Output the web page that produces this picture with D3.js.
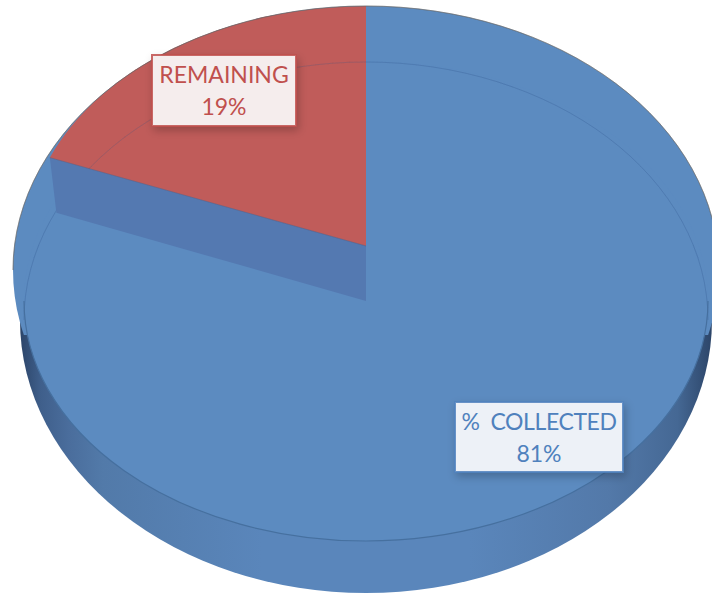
<!DOCTYPE html>
<html>
<head>
<meta charset="utf-8">
<script src="https://cdn.jsdelivr.net/npm/d3@7"></script>
<style>
html, body { margin: 0; padding: 0; background: #fff; overflow: hidden; }
svg { display: block; }
</style>
</head>
<body>
<div id="chart"></div>
<script>
//Data
var categories = ["% COLLECTED", "REMAINING"];
var values = [81, 19];
var labelTitles = ["%  COLLECTED", "REMAINING"];
var labelValues = ["81%", "19%"];

//Dimensions
var width = 712, height = 593;
var cx = 366;
var top_ = { cy: 246, rx: 340, ry: 240 };     // raised face, red slice sits here
var back = { cy: 270, rx: 353, ry: 264 };     // back outline of the disc
var face = { cy: 301, rx: 342, ry: 240 };     // blue face, front half
var rim = { cy: 320, rx: 342, ry: 258 };      // faint line, back half of the face
var foot = { cy: 301, rx: 333, ry: 240 };     // foot of the inner wall
var wall = { cy: 320, rx: 346, ry: 273 };     // lower edge of the side wall
var boxes = [
    { x: 455, y: 402, w: 168, h: 70 },
    { x: 152, y: 55, w: 144, h: 71 }
];

var svg = d3.select("#chart")
    .append("svg")
    .attr("width", width)
    .attr("height", height);

var defs = svg.append("defs");

//Side wall gradient
var grad = defs.append("linearGradient")
    .attr("id", "wallGrad")
    .attr("x1", 0).attr("x2", 1)
    .attr("y1", 0).attr("y2", 0);
[[0, "#2c4569"], [0.03, "#3f5f8b"], [0.07, "#4a6d9c"], [0.12, "#527aa9"], [0.35, "#5a86bb"],
 [0.65, "#5a86bb"], [0.85, "#5379a9"], [0.95, "#456894"], [1, "#2c4569"]]
    .forEach(function (s) {
        grad.append("stop").attr("offset", s[0]).attr("stop-color", s[1]);
    });

//Only the upper part of the back outline is visible
defs.append("clipPath").attr("id", "backClip")
    .append("rect")
    .attr("x", 0).attr("y", 0)
    .attr("width", width).attr("height", 335);

var shadow = defs.append("filter").attr("id", "boxShadow")
    .attr("x", "-20%").attr("y", "-20%")
    .attr("width", "140%").attr("height", "150%");
shadow.append("feDropShadow")
    .attr("dx", 2).attr("dy", 4)
    .attr("stdDeviation", 4)
    .attr("flood-color", "#000")
    .attr("flood-opacity", 0.22);

var color = d3.scaleOrdinal()
    .domain(categories)
    .range(["#5c8bc0", "#c05c5a"]);
var textColor = d3.scaleOrdinal()
    .domain(categories)
    .range(["#4f81bd", "#c0504d"]);
var boxFill = d3.scaleOrdinal()
    .domain(categories)
    .range(["#edf1f7", "#f5eded"]);

var pie = d3.pie().sort(null).value(function (d) { return d; });
var slices = pie(values);
var unitArc = d3.arc().innerRadius(0).outerRadius(1);
var lineArc = d3.arc().innerRadius(1).outerRadius(1);
var fullDisc = unitArc({ startAngle: 0, endAngle: 2 * Math.PI });
var backHalf = { startAngle: -Math.PI / 2, endAngle: Math.PI / 2 };
var frontHalf = { startAngle: Math.PI / 2, endAngle: 3 * Math.PI / 2 };

function place(e) {
    return "translate(" + cx + "," + e.cy + ")scale(" + e.rx + "," + e.ry + ")";
}
function onEdge(e, angle) {
    return [cx + e.rx * Math.sin(angle), e.cy - e.ry * Math.cos(angle)];
}

//The red slice shape is also used to clip the faint line
defs.append("clipPath").attr("id", "redClip")
    .append("path")
    .attr("d", unitArc(slices[1]))
    .attr("transform", place(top_));

function drawRim(parent, opacity) {
    parent.append("path")
        .attr("d", lineArc(backHalf))
        .attr("transform", place(rim))
        .attr("fill", "none")
        .attr("stroke", "#33578f")
        .attr("stroke-opacity", opacity)
        .attr("stroke-width", 1)
        .attr("vector-effect", "non-scaling-stroke");
}

//Side wall
svg.append("path")
    .attr("d", fullDisc)
    .attr("transform", place(wall))
    .attr("fill", "url(#wallGrad)");

//Blue face and the back part of the disc
svg.append("g")
    .attr("clip-path", "url(#backClip)")
    .append("path")
    .attr("d", fullDisc)
    .attr("transform", place(back))
    .attr("fill", color(categories[0]));

svg.append("path")
    .attr("d", fullDisc)
    .attr("transform", place(face))
    .attr("fill", color(categories[0]));

//Faint line on the blue part
drawRim(svg, 0.16);

//Inner wall under the cut out slice
var cutAngle = slices[1].startAngle;
svg.append("path")
    .attr("d", d3.line()([
        onEdge(top_, cutAngle),
        [cx, top_.cy],
        [cx, face.cy],
        onEdge(foot, cutAngle)
    ]) + "Z")
    .attr("fill", "#5479b1");

//Raised slice
svg.append("path")
    .attr("d", unitArc(slices[1]))
    .attr("transform", place(top_))
    .attr("fill", color(categories[1]));

//Faint line seen through the red slice
drawRim(svg.append("g").attr("clip-path", "url(#redClip)"), 0.12);

//Front rim of the face is a bit stronger
svg.append("path")
    .attr("d", lineArc(frontHalf))
    .attr("transform", place(face))
    .attr("fill", "none")
    .attr("stroke", "#46709f")
    .attr("stroke-width", 1.2)
    .attr("vector-effect", "non-scaling-stroke");

//Slice edges
svg.append("path")
    .attr("d", d3.line()([onEdge(top_, cutAngle), [cx, top_.cy]]))
    .attr("fill", "none")
    .attr("stroke", "#4a5f8c")
    .attr("stroke-opacity", 0.5);

//Back rim
svg.append("path")
    .attr("d", lineArc(backHalf))
    .attr("transform", place(back))
    .attr("fill", "none")
    .attr("stroke", "#666")
    .attr("stroke-opacity", 0.45)
    .attr("stroke-width", 1)
    .attr("vector-effect", "non-scaling-stroke");

//Labels
var labels = svg.selectAll("g.label")
    .data(categories)
    .enter()
    .append("g")
    .attr("class", "label");

labels.append("rect")
    .attr("x", function (d, i) { return boxes[i].x; })
    .attr("y", function (d, i) { return boxes[i].y; })
    .attr("width", function (d, i) { return boxes[i].w; })
    .attr("height", function (d, i) { return boxes[i].h; })
    .attr("fill", function (d) { return boxFill(d); })
    .attr("stroke", function (d) { return textColor(d); })
    .attr("stroke-opacity", 0.85)
    .attr("stroke-width", 2)
    .attr("filter", "url(#boxShadow)");

labels.append("text")
    .attr("x", function (d, i) { return boxes[i].x + boxes[i].w / 2; })
    .attr("y", function (d, i) { return boxes[i].y + 28; })
    .attr("text-anchor", "middle")
    .style("font-family", "Lato, sans-serif")
    .style("font-size", "23px")
    .style("white-space", "pre")
    .style("letter-spacing", function (d, i) { return i == 0 ? "-0.4px" : "0"; })
    .attr("fill", function (d) { return textColor(d); })
    .text(function (d, i) { return labelTitles[i]; });

labels.append("text")
    .attr("x", function (d, i) { return boxes[i].x + boxes[i].w / 2; })
    .attr("y", function (d, i) { return boxes[i].y + 60; })
    .attr("text-anchor", "middle")
    .style("font-family", "Lato, sans-serif")
    .style("font-size", "23px")
    .attr("fill", function (d) { return textColor(d); })
    .text(function (d, i) { return labelValues[i]; });
</script>
</body>
</html>
